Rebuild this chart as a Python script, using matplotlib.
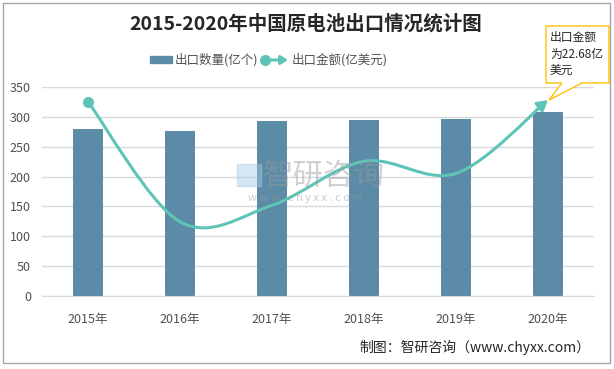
import matplotlib.pyplot as plt
import numpy as np
from matplotlib.patches import Rectangle, FancyArrowPatch, Polygon
from matplotlib.path import Path

plt.rcParams['font.family'] = ['Noto Sans CJK SC', 'DejaVu Sans']

years = ['2015年', '2016年', '2017年', '2018年', '2019年', '2020年']
quantity = [280, 277, 293, 295, 297, 308]          # 出口数量(亿个)
value = [22.5, 8.6, 10.5, 15.6, 14.2, 22.68]       # 出口金额(亿美元)
y_ticks = [0, 50, 100, 150, 200, 250, 300, 350]

bar_color = '#5b8ba6'
line_color = '#5ec4b6'
grid_color = '#d9d9d9'
text_color = '#505050'


def smooth_path(xs, ys):
    # Excel-style smoothed line: cubic bezier segments with catmull-rom tangents
    verts = [(xs[0], ys[0])]
    codes = [Path.MOVETO]
    n = len(xs)
    for i in range(n - 1):
        x0, y0 = xs[max(i - 1, 0)], ys[max(i - 1, 0)]
        x1, y1 = xs[i], ys[i]
        x2, y2 = xs[i + 1], ys[i + 1]
        x3, y3 = xs[min(i + 2, n - 1)], ys[min(i + 2, n - 1)]
        c1 = (x1 + (x2 - x0) / 6, y1 + (y2 - y0) / 6)
        c2 = (x2 - (x3 - x1) / 6, y2 - (y3 - y1) / 6)
        verts += [c1, c2, (x2, y2)]
        codes += [Path.CURVE4] * 3
    return Path(verts, codes)


figure = plt.figure(figsize=(6.14, 3.69), dpi=100)
axes = figure.add_axes([0.0684, 0.1978, 0.899, 0.5664])
x = np.arange(len(years))

axes.bar(x, quantity, width=0.32, color=bar_color, zorder=2)
axes.set_xlim(-0.5, len(years) - 0.5)
axes.set_ylim(0, 350)
axes.set_yticks(y_ticks)
axes.set_xticks(x)
axes.set_xticklabels(years)
axes.tick_params(axis='both', length=0, labelsize=9, colors=text_color)
axes.tick_params(axis='x', pad=12)
axes.tick_params(axis='y', pad=8)
axes.grid(axis='y', color=grid_color, linewidth=1, zorder=0)
axes.set_axisbelow(True)
for side in ['left', 'right', 'top']:
    axes.spines[side].set_visible(False)
axes.spines['bottom'].set_color(grid_color)

# secondary (hidden) axis for export value
axes2 = axes.twinx()
axes2.set_ylim(0, 24.2)
axes2.axis('off')
curve = FancyArrowPatch(path=smooth_path(list(x), value), arrowstyle='-|>,head_length=6,head_width=3.5',
                        color=line_color, linewidth=2.2, shrinkA=0, shrinkB=0,
                        transform=axes2.transData, zorder=4)
axes2.add_patch(curve)
axes2.plot(x[:1], value[:1], 'o', color=line_color, markersize=7, zorder=5)

# watermark
figure.patches.append(Rectangle((237 / 614, 1 - 186 / 369), 24 / 614, 22 / 369, color='#a8c8e8',
                                alpha=0.45, transform=figure.transFigure, figure=figure))
figure.text(324 / 614, 1 - 176 / 369, '智研咨询', fontsize=22, color='#9a9a9a', alpha=0.45,
            ha='center', va='center')
figure.text(305 / 614, 1 - 198 / 369, 'w w w . c h y x x . c o m', fontsize=8, color='#9a9a9a',
            alpha=0.5, ha='center', va='center')

# title
figure.text(0.497, 0.935, '2015-2020年中国原电池出口情况统计图', fontsize=14, fontweight='bold',
            color='#262626', ha='center', va='center')

# legend drawn by hand
figure.patches.append(Rectangle((150 / 614, 1 - 63 / 369), 22 / 614, 7 / 369, color=bar_color,
                                transform=figure.transFigure, figure=figure))
figure.text(175 / 614, 1 - 60 / 369, '出口数量(亿个)', fontsize=9, color=text_color, va='center')
figure.patches.append(FancyArrowPatch((265 / 614, 1 - 60 / 369), (288 / 614, 1 - 60 / 369),
                                      arrowstyle='-|>,head_length=4,head_width=2.5', color=line_color,
                                      linewidth=2.2, shrinkA=0, shrinkB=0,
                                      transform=figure.transFigure, figure=figure))
figure.lines.append(plt.Line2D([265 / 614], [1 - 60 / 369], marker='o', markersize=7, color=line_color,
                               transform=figure.transFigure, figure=figure))
figure.text(292 / 614, 1 - 60 / 369, '出口金额(亿美元)', fontsize=9, color=text_color, va='center')

# callout
callout = Polygon([(546 / 614, 1 - 26 / 369), (609 / 614, 1 - 26 / 369), (609 / 614, 1 - 83 / 369),
                   (582 / 614, 1 - 83 / 369), (549 / 614, 1 - 100 / 369), (562 / 614, 1 - 83 / 369),
                   (546 / 614, 1 - 83 / 369)],
                  closed=True, facecolor='white', edgecolor='#ffc000', linewidth=1,
                  transform=figure.transFigure, figure=figure, zorder=10)
figure.patches.append(callout)
figure.text(550 / 614, 1 - 54 / 369, '出口金额\n为22.68亿\n美元', fontsize=8.5, color='#262626',
            va='center', ha='left', linespacing=1.35, zorder=11)

# source
figure.text(0.962, 0.058, '制图：智研咨询（www.chyxx.com）', fontsize=10, color='#262626',
            ha='right', va='center')

# outer border
figure.patches.append(Rectangle((3 / 614, 1 - 363 / 369), 607 / 614, 360 / 369, fill=False,
                                edgecolor='#a6a6a6', linewidth=1, transform=figure.transFigure,
                                figure=figure))

figure.savefig('out.png', dpi=100)
